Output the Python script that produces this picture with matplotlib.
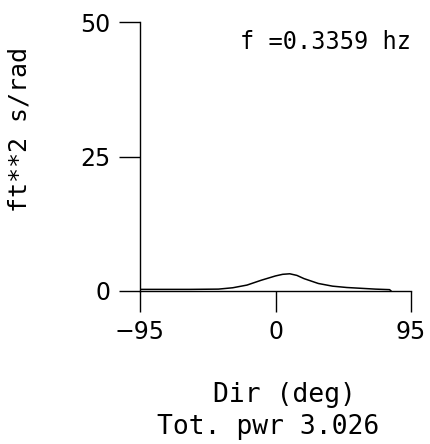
import numpy as np
import matplotlib.pyplot as plt

# directional spectrum slice
direction = [-95, -80, -60, -40, -30, -20, -10, 0, 5, 10, 15, 20, 30, 40, 50, 60, 70, 80, 81]
density = [0.3, 0.3, 0.3, 0.35, 0.6, 1.1, 2.0, 2.8, 3.1, 3.2, 2.9, 2.3, 1.4, 0.9, 0.65, 0.5, 0.35, 0.25, 0.0]

x_ticks = [-95, 0, 95]
y_ticks = [0, 25, 50]
freq = 0.3359
tot_pwr = 3.026

W, H = 430, 444
fig = plt.figure(figsize=(W / 100, H / 100), dpi=100)
ax = fig.add_axes([140 / W, 1 - 291 / H, 271 / W, 269 / H])

ax.plot(direction, density, color='black', lw=1.1)

ax.set_xlim(-95, 95)
ax.set_ylim(0, 50)
ax.set_xticks(x_ticks)
ax.set_yticks(y_ticks)
ax.set_xticklabels(['\u221295', '0', '95'])
for s in ['top', 'right']:
    ax.spines[s].set_visible(False)
for s in ['left', 'bottom']:
    ax.spines[s].set_linewidth(1.0)
ax.tick_params(axis='both', direction='out', length=15, width=1.0,
               labelsize=17, pad=6)
ax.patch.set_visible(False)

mono = 'DejaVu Sans Mono'
fig.text(325 / W, 1 - 42 / H, 'f =%.4f hz' % freq, ha='center', va='center',
         fontsize=17, family=mono)
fig.text(284 / W, 1 - 395 / H, 'Dir (deg)', ha='center', va='center',
         fontsize=19, family=mono)
fig.text(268 / W, 1 - 427 / H, 'Tot. pwr %.3f' % tot_pwr, ha='center', va='center',
         fontsize=19, family=mono)
fig.text(20 / W, 1 - 129 / H, 'ft**2 s/rad', ha='center', va='center',
         rotation=90, fontsize=18, family=mono)

fig.savefig('out.png', dpi=100)
